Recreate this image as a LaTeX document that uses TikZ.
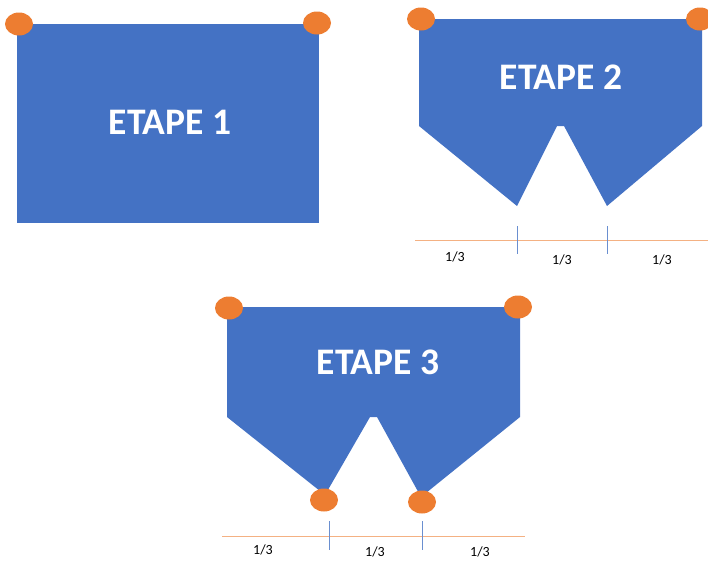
\documentclass[tikz,border=0pt]{standalone}
\usepackage{fontspec}
\setmainfont{Carlito}
\usetikzlibrary{shapes.geometric}
\definecolor{blu}{HTML}{4472C4}
\definecolor{org}{HTML}{ED7D31}
\definecolor{lorg}{HTML}{F4B183}
\definecolor{ltick}{HTML}{6A8FD0}
\begin{document}
\begin{tikzpicture}[x=1pt,y=-1pt,
  shapefill/.style={fill=blu,draw=none},
  dot/.style={ellipse,fill=org,draw=none,minimum width=28pt,minimum height=23pt,inner sep=0pt},
  title/.style={text=white,font=\bfseries\fontsize{37.5}{44}\selectfont,inner sep=0pt},
  frac/.style={font=\fontsize{14}{16}\selectfont,inner sep=0pt},
  ruler/.style={draw=lorg,line width=0.9pt},
  tickline/.style={draw=ltick,line width=0.6pt}]
\useasboundingbox (0,0) rectangle (708,560);
% ETAPE 1
\fill[shapefill] (17,24) rectangle (319,223);
\node[title] (t1) at (170,122) {ETAPE 1};
\node[dot] (d1a) at (19,24) {};
\node[dot] (d1b) at (317,23) {};
% ETAPE 2
\fill[shapefill] (419,19) -- (702,19) -- (702,126) -- (607,206) -- (564,126) -- (557,126) -- (517,206) -- (419,126) -- cycle;
\node[title] (t2) at (561,77) {ETAPE 2};
\node[dot] (d2a) at (421,19) {};
\node[dot] (d2b) at (700,19) {};
\coordinate (r2a) at (415,240);
\coordinate (r2b) at (708,240);
\draw[ruler] (r2a) -- (r2b);
\coordinate (k2a) at (517,226); \coordinate (k2b) at (517,254);
\coordinate (k2c) at (607,226); \coordinate (k2d) at (607,254);
\draw[tickline] (k2a) -- (k2b);
\draw[tickline] (k2c) -- (k2d);
\node[frac] (f2a) at (455,257) {1/3};
\node[frac] (f2b) at (562,260) {1/3};
\node[frac] (f2c) at (662,260) {1/3};
% ETAPE 3
\fill[shapefill] (227,307) -- (520,307) -- (520,417) -- (421,497) -- (377,417) -- (370,417) -- (325,495) -- (227,417) -- cycle;
\node[title] (t3) at (378,362) {ETAPE 3};
\node[dot] (d3a) at (229,308) {};
\node[dot] (d3b) at (518,307) {};
\node[dot] (d3c) at (324,500) {};
\node[dot] (d3d) at (422,502) {};
\coordinate (r3a) at (222,536);
\coordinate (r3b) at (525,536);
\draw[ruler] (r3a) -- (r3b);
\coordinate (k3a) at (329,521); \coordinate (k3b) at (329,550);
\coordinate (k3c) at (422,521); \coordinate (k3d) at (422,550);
\draw[tickline] (k3a) -- (k3b);
\draw[tickline] (k3c) -- (k3d);
\node[frac] (f3a) at (263,550) {1/3};
\node[frac] (f3b) at (375,552) {1/3};
\node[frac] (f3c) at (480,552) {1/3};
\end{tikzpicture}
\end{document}
